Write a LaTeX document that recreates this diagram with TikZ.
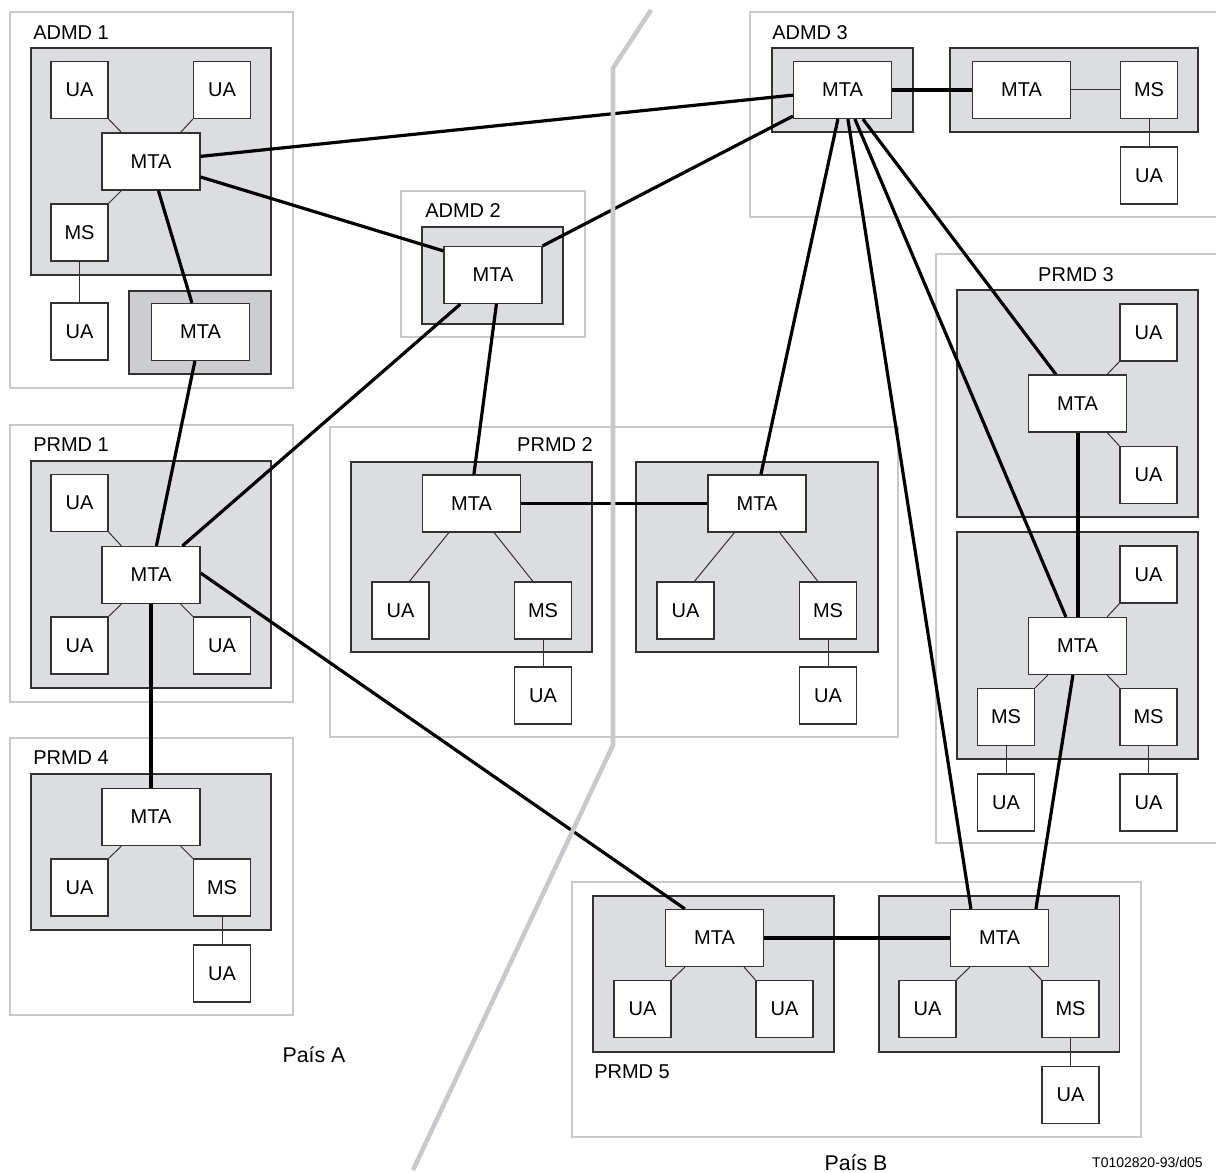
\documentclass[tikz,border=0pt]{standalone}
\usepackage{fontspec}
\setmainfont{Liberation Sans}
\usetikzlibrary{calc}
\definecolor{domfill}{RGB}{220,221,225}
\definecolor{darkfill}{RGB}{204,205,209}
\definecolor{frameline}{RGB}{200,201,204}
\definecolor{boxline}{RGB}{50,50,50}
\definecolor{divline}{RGB}{200,201,205}
\begin{document}
\begin{tikzpicture}[x=0.75pt,y=-0.75pt,
  every node/.style={font=\fontsize{15}{17}\selectfont},
  unitbox/.style={draw=boxline, fill=white, line width=0.9pt, inner sep=0pt, minimum height=42.75pt},
  uabox/.style={unitbox, minimum width=42.75pt},
  mtabox/.style={unitbox, minimum width=73.5pt},
  domframe/.style={draw=frameline, line width=1.6pt},
  grayarea/.style={draw=boxline, fill=domfill, line width=0.9pt},
  darkarea/.style={draw=boxline, fill=darkfill, line width=0.9pt},
  trunk/.style={line width=2.4pt, draw=black},
  link/.style={line width=0.75pt, draw=boxline},
  lbl/.style={inner sep=0pt, font=\fontsize{15}{17}\selectfont},
  divider/.style={draw=divline, line width=3.4pt}
]
\clip (0,0) rectangle (1216,1173);
\fill[white] (0,0) rectangle (1216,1173);

% domain frames
\draw[domframe] (10,12) rectangle (293,388);
\draw[domframe] (401,191) rectangle (585,337);
\draw[domframe] (750,12) rectangle (1235,217);
\draw[domframe] (936,254) rectangle (1235,843);
\draw[domframe] (10,425) rectangle (293,702);
\draw[domframe] (330,427) rectangle (898,737);
\draw[domframe] (10,738) rectangle (293,1015);
\draw[domframe] (572,882) rectangle (1141,1137);

% gray areas
\draw[grayarea] (31,48) rectangle (271,275);
\draw[darkarea] (129,291) rectangle (271,374);
\draw[grayarea] (422,227) rectangle (563,324);
\draw[grayarea] (772,48) rectangle (913,132);
\draw[grayarea] (950,48) rectangle (1198,132);
\draw[grayarea] (957,290) rectangle (1198,517);
\draw[grayarea] (957,532) rectangle (1198,759);
\draw[grayarea] (31,461) rectangle (271,688);
\draw[grayarea] (351,462) rectangle (592,652);
\draw[grayarea] (636,462) rectangle (878,652);
\draw[grayarea] (31,774) rectangle (271,930);
\draw[grayarea] (593,896) rectangle (834,1052);
\draw[grayarea] (879,896) rectangle (1119.5,1052);

% ADMD 1
\node[uabox] (a1ua1) at (79.5,90) {UA};
\node[uabox] (a1ua2) at (222,90) {UA};
\node[mtabox] (a1mta) at (151,161.5) {MTA};
\node[uabox] (a1ms) at (79.5,232.5) {MS};
\node[uabox] (a1ua3) at (79.5,331.5) {UA};
\node[mtabox] (dmta) at (200.5,332) {MTA};
% ADMD 2
\node[mtabox] (a2mta) at (493,275) {MTA};
% ADMD 3
\node[mtabox] (a3mta) at (842.5,90) {MTA};
\node[mtabox] (a3mtb) at (1021.5,90) {MTA};
\node[uabox] (a3ms) at (1149,90) {MS};
\node[uabox] (a3ua) at (1149,175.5) {UA};
% PRMD 3
\node[uabox] (p3ua1) at (1148.5,332.5) {UA};
\node[mtabox] (p3umta) at (1077.5,403.5) {MTA};
\node[uabox] (p3ua2) at (1148.5,475) {UA};
\node[uabox] (p3ua3) at (1148.5,574.5) {UA};
\node[mtabox] (p3lmta) at (1077.5,646) {MTA};
\node[uabox] (p3ms1) at (1006,717) {MS};
\node[uabox] (p3ms2) at (1148.5,717) {MS};
\node[uabox] (p3ua4) at (1006,802.5) {UA};
\node[uabox] (p3ua5) at (1148.5,802.5) {UA};
% PRMD 1
\node[uabox] (p1ua1) at (79.5,503) {UA};
\node[mtabox] (p1mta) at (151,575) {MTA};
\node[uabox] (p1ua2) at (79.5,645.5) {UA};
\node[uabox] (p1ua3) at (222,645.5) {UA};
% PRMD 4
\node[mtabox] (p4mta) at (151,817) {MTA};
\node[uabox] (p4ua) at (79.5,887.5) {UA};
\node[uabox] (p4ms) at (222,887.5) {MS};
\node[uabox] (p4ua2) at (222,973.5) {UA};
% PRMD 2
\node[mtabox] (p2lmta) at (471.5,503.5) {MTA};
\node[uabox] (p2lua) at (400.5,610.5) {UA};
\node[uabox] (p2lms) at (543,610.5) {MS};
\node[uabox] (p2lua2) at (543,695.5) {UA};
\node[mtabox] (p2rmta) at (757,503.5) {MTA};
\node[uabox] (p2rua) at (685.5,610.5) {UA};
\node[uabox] (p2rms) at (828,610.5) {MS};
\node[uabox] (p2rua2) at (828,695.5) {UA};
% PRMD 5
\node[mtabox] (p5lmta) at (714.5,938) {MTA};
\node[uabox] (p5ua1) at (642.5,1009) {UA};
\node[uabox] (p5ua2) at (784.5,1009) {UA};
\node[mtabox] (p5rmta) at (999.5,938) {MTA};
\node[uabox] (p5ua3) at (927.5,1009) {UA};
\node[uabox] (p5ms) at (1070.5,1009) {MS};
\node[uabox] (p5ua4) at (1070.5,1095) {UA};

% thin links
\draw[link] (a1ua1.south east) -- ($(a1mta.north west)+(20,0)$);
\draw[link] (a1ua2.south west) -- ($(a1mta.north east)+(-20,0)$);
\draw[link] ($(a1mta.south west)+(20,0)$) -- (a1ms.north east);
\draw[link] (a1ms) -- (a1ua3);
\draw[link] (a3mtb) -- (a3ms);
\draw[link] (a3ms) -- (a3ua);
\draw[link] (p3ua1.south west) -- ($(p3umta.north east)+(-20,0)$);
\draw[link] ($(p3umta.south east)+(-20,0)$) -- (p3ua2.north west);
\draw[link] (p3ua3.south west) -- ($(p3lmta.north east)+(-20,0)$);
\draw[link] ($(p3lmta.south west)+(20,0)$) -- (p3ms1.north east);
\draw[link] ($(p3lmta.south east)+(-20,0)$) -- (p3ms2.north west);
\draw[link] (p3ms1) -- (p3ua4);
\draw[link] (p3ms2) -- (p3ua5);
\draw[link] (p1ua1.south east) -- ($(p1mta.north west)+(20,0)$);
\draw[link] ($(p1mta.south west)+(20,0)$) -- (p1ua2.north east);
\draw[link] ($(p1mta.south east)+(-20,0)$) -- (p1ua3.north west);
\draw[link] ($(p4mta.south west)+(20,0)$) -- (p4ua.north east);
\draw[link] ($(p4mta.south east)+(-20,0)$) -- (p4ms.north west);
\draw[link] (p4ms) -- (p4ua2);
\draw[link] ($(p2lmta.south west)+(27,0)$) -- ($(p2lua.north west)+(38,0)$);
\draw[link] ($(p2lmta.south east)+(-27,0)$) -- ($(p2lms.north west)+(19,0)$);
\draw[link] (p2lms) -- (p2lua2);
\draw[link] ($(p2rmta.south west)+(27,0)$) -- ($(p2rua.north west)+(38,0)$);
\draw[link] ($(p2rmta.south east)+(-27,0)$) -- ($(p2rms.north west)+(19,0)$);
\draw[link] (p2rms) -- (p2rua2);
\draw[link] ($(p5lmta.south west)+(20,0)$) -- (p5ua1.north east);
\draw[link] ($(p5lmta.south east)+(-20,0)$) -- (p5ua2.north west);
\draw[link] ($(p5rmta.south west)+(20,0)$) -- (p5ua3.north east);
\draw[link] ($(p5rmta.south east)+(-20,0)$) -- (p5ms.north west);
\draw[link] (p5ms) -- (p5ua4);

% trunk lines between MTAs
\draw[trunk] (a1mta) -- (a3mta);
\draw[trunk] ($(a1mta.east)+(0,15.5)$) -- ($(a2mta.north west)+(0,5)$);
\draw[trunk] (a2mta.north east) -- ($(a3mta.south west)+(0,-3)$);
\draw[trunk] ($(a1mta.south west)+(57,0)$) -- ($(dmta.north west)+(41,0)$);
\draw[trunk] ($(dmta.south west)+(44,0)$) -- ($(p1mta.north west)+(55,0)$);
\draw[trunk] ($(a2mta.south west)+(17,0)$) -- ($(p1mta.north west)+(81,0)$);
\draw[trunk] ($(a2mta.south west)+(53,0)$) -- ($(p2lmta.north west)+(52,0)$);
\draw[trunk] ($(p1mta.east)+(0,-2)$) -- ($(p5lmta.north west)+(20,0)$);
\draw[trunk] (p1mta.south) -- (p4mta.north);
\draw[trunk] (p2lmta) -- (p2rmta);
\draw[trunk] ($(a3mta.south west)+(45,0)$) -- ($(p2rmta.north west)+(53.5,0)$);
\draw[trunk] ($(a3mta.south west)+(55,0)$) -- ($(p5rmta.north west)+(21,0)$);
\draw[trunk] ($(a3mta.south west)+(62,0)$) -- ($(p3lmta.north west)+(38,0)$);
\draw[trunk] ($(a3mta.south west)+(70,0)$) -- ($(p3umta.north west)+(28,0)$);
\draw[trunk] ($(p3umta.south west)+(50,0)$) -- ($(p3lmta.north west)+(50,0)$);
\draw[trunk] ($(p3lmta.south west)+(45,0)$) -- ($(p5rmta.north west)+(86,0)$);
\draw[trunk] (p5lmta) -- (p5rmta);
\draw[trunk] (a3mta) -- (a3mtb);

% country boundary
\draw[divider] (651,10) -- (613,68) -- (613,745) -- (413,1170);

% labels
\node[lbl, anchor=west] (la1) at (33,33) {ADMD 1};
\node[lbl, anchor=west] (la2) at (425,211) {ADMD 2};
\node[lbl, anchor=west] (la3) at (772,33) {ADMD 3};
\node[lbl] (lp3) at (1076,275) {PRMD 3};
\node[lbl, anchor=west] (lp1) at (33,445) {PRMD 1};
\node[lbl] (lp2) at (555,445) {PRMD 2};
\node[lbl, anchor=west] (lp4) at (33,758) {PRMD 4};
\node[lbl, anchor=west] (lp5) at (594,1072) {PRMD 5};
\node[lbl, font=\fontsize{16}{19}\selectfont] (pa) at (314,1055) {País A};
\node[lbl, font=\fontsize{16}{19}\selectfont] (pb) at (856,1163) {País B};
\node[lbl, anchor=east, font=\fontsize{10.5}{12}\selectfont] (ref) at (1203,1162) {T0102820-93/d05};
\end{tikzpicture}
\end{document}
